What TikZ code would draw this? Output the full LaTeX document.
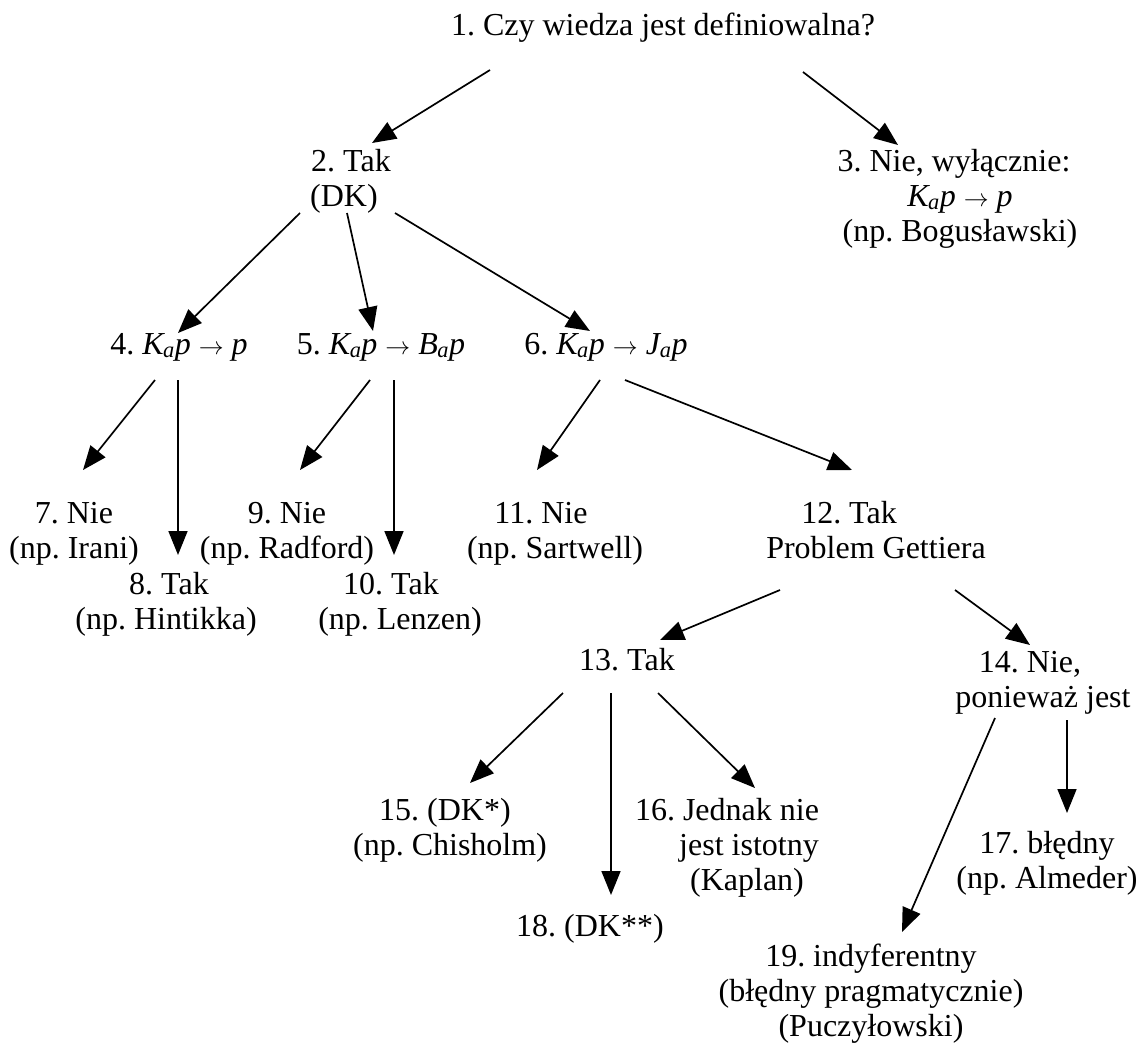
\documentclass[tikz,border=0pt]{standalone}
\usepackage{fontspec}
\setmainfont{Liberation Serif}
\usetikzlibrary{arrows.meta}
\frenchspacing
\newcommand\kap{\textit{K\kern-0.5pt\textsubscript{a}p}}
\newcommand\shft[1]{\hspace*{#1pt}\hspace*{#1pt}}
\newcommand\imp{ $\rightarrow$ }
\begin{document}
\begin{tikzpicture}[x=1pt,y=-1pt,
  lbl/.style={align=center, anchor=north, inner sep=0pt,
    font=\fontsize{32}{35}\selectfont\frenchspacing},
  arr/.style={line width=1.7pt, -{Triangle[length=24pt,width=19pt]}}]
\useasboundingbox (0,0) rectangle (1141,1044);
\node[lbl] (n1) at (663,10.5) {\strut 1. Czy wiedza jest definiowalna?};
\node[lbl] (n2) at (344,146.5) {\strut\shft{7}2. Tak\\\strut (DK)};
\node[lbl] (n3) at (960,146.5) {\strut\shft{-6}3. Nie, wyłącznie:\\\strut \kap\imp\textit{p}\\\strut (np. Bogusławski)};
\node[lbl] (n4) at (179,329.5) {\strut 4. \kap\imp\textit{p}};
\node[lbl] (n5) at (381,329.5) {\strut 5. \kap\imp\textit{B\kern-0.5pt\textsubscript{a}p}};
\node[lbl] (n6) at (606,329.5) {\strut 6. \kap\imp\textit{J\textsubscript{a}p}};
\node[lbl] (n7) at (74,498.5) {\strut 7. Nie\\\strut (np. Irani)};
\node[lbl] (n8) at (166,569.5) {\strut\shft{3}8. Tak\\\strut (np. Hintikka)};
\node[lbl] (n9) at (287,498.5) {\strut 9. Nie\\\strut (np. Radford)};
\node[lbl] (n10) at (400,569.5) {\strut\shft{-9}10. Tak\\\strut (np. Lenzen)};
\node[lbl] (n11) at (555,498.5) {\strut\shft{-14}11. Nie\\\strut (np. Sartwell)};
\node[lbl] (n12) at (876,498.5) {\strut\shft{-27}12. Tak\\\strut Problem Gettiera};
\node[lbl] (n13) at (627,645.5) {\strut 13. Tak};
\node[lbl] (n14) at (1043,647.5) {\strut\shft{-13}14. Nie,\\\strut ponieważ jest};
\node[lbl] (n15) at (450,795.5) {\strut\shft{-5}15. (DK*)\\\strut (np. Chisholm)};
\node[lbl] (n16) at (727,795.5) {\strut 16. Jednak nie\\\strut\shft{22}jest istotny\\\strut\shft{20}(Kaplan)};
\node[lbl] (n17) at (1047,828.5) {\strut 17. błędny\\\strut (np. Almeder)};
\node[lbl] (n18) at (590,911.5) {\strut 18. (DK**)};
\node[lbl] (n19) at (871,941.5) {\strut 19. indyferentny\\\strut (błędny pragmatycznie)\\\strut (Puczyłowski)};

\draw[arr] ([shift={(-173,59.5)}]n1.north) -- ([shift={(28,-3.5)}]n2.north);
\draw[arr] ([shift={(140,61.5)}]n1.north) -- ([shift={(-62,-1.5)}]n3.north);
\draw[arr] ([shift={(-44,66.5)}]n2.north) -- ([shift={(-1,3.5)}]n4.north);
\draw[arr] ([shift={(3,66.5)}]n2.north) -- ([shift={(-8,1.5)}]n5.north);
\draw[arr] ([shift={(51,66.5)}]n2.north) -- ([shift={(-16,1.5)}]n6.north);
\draw[arr] ([shift={(-24,50.5)}]n4.north) -- ([shift={(9,-28.5)}]n7.north);
\draw[arr] ([shift={(-1,50.5)}]n4.north) -- ([shift={(12,-14.5)}]n8.north);
\draw[arr] ([shift={(-11,50.5)}]n5.north) -- ([shift={(13,-28.5)}]n9.north);
\draw[arr] ([shift={(13,50.5)}]n5.north) -- ([shift={(-6,-14.5)}]n10.north);
\draw[arr] ([shift={(-6,50.5)}]n6.north) -- ([shift={(-18,-28.5)}]n11.north);
\draw[arr] ([shift={(19,50.5)}]n6.north) -- ([shift={(-24,-28.5)}]n12.north);
\draw[arr] ([shift={(-96,91.5)}]n12.north) -- ([shift={(33,-5.5)}]n13.north);
\draw[arr] ([shift={(79,91.5)}]n12.north) -- ([shift={(-13,-2.5)}]n14.north);
\draw[arr] ([shift={(-64,47.5)}]n13.north) -- ([shift={(20,-12.5)}]n15.north);
\draw[arr] ([shift={(-16,47.5)}]n13.north) -- ([shift={(21,-16.5)}]n18.north);
\draw[arr] ([shift={(31,47.5)}]n13.north) -- ([shift={(28,-7.5)}]n16.north);
\draw[arr] ([shift={(-48,70.5)}]n14.north) -- ([shift={(31,-9.5)}]n19.north);
\draw[arr] ([shift={(24,72.5)}]n14.north) -- ([shift={(20,-15.5)}]n17.north);
\end{tikzpicture}
\end{document}
